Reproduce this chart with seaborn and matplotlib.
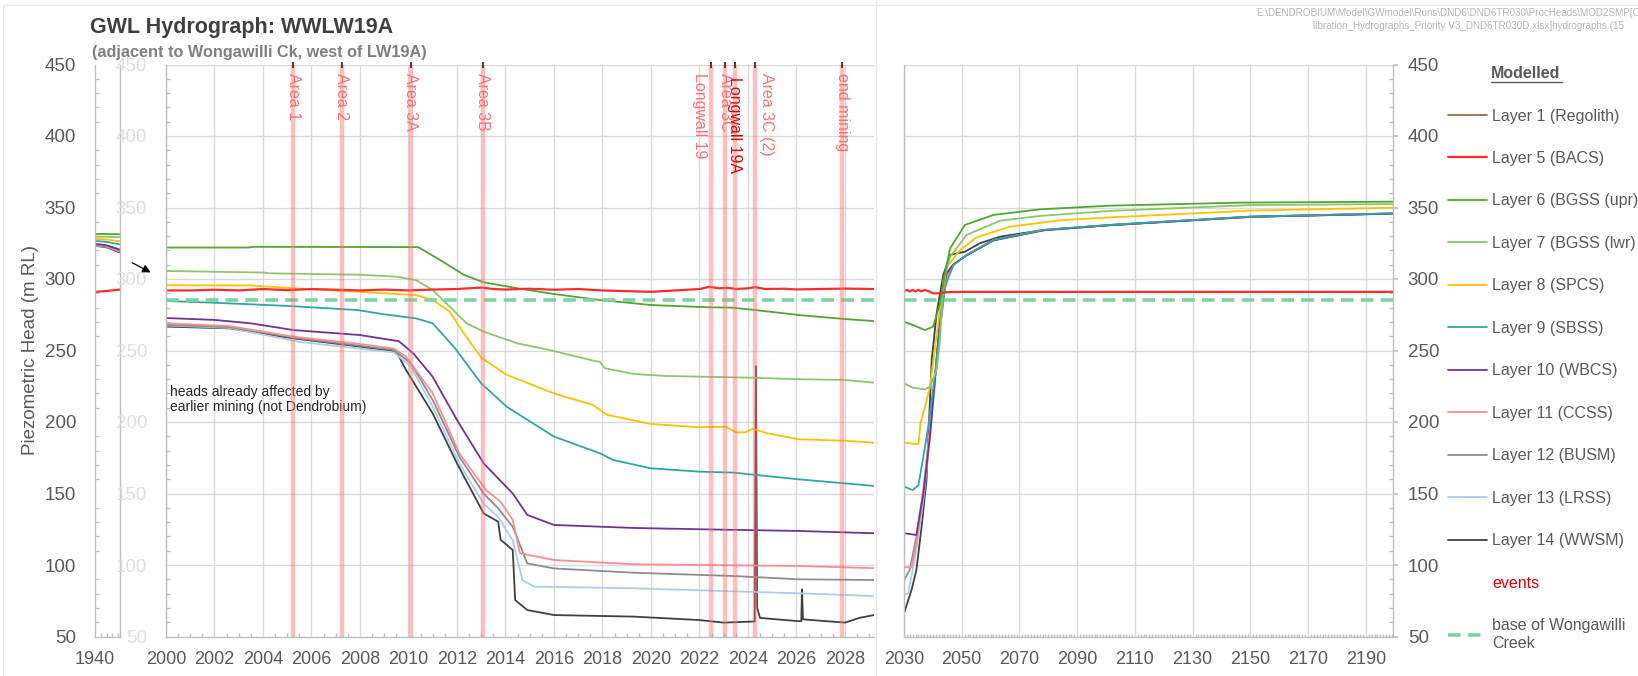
import matplotlib
matplotlib.use('Agg')
import matplotlib.pyplot as plt
from matplotlib.lines import Line2D
from matplotlib.ticker import MultipleLocator
import pandas as pd
import seaborn as sns

# ================= data =================
legend_labels = ['Layer 1 (Regolith)', 'Layer 5 (BACS)', 'Layer 6 (BGSS (upr)',
                 'Layer 7 (BGSS (lwr)', 'Layer 8 (SPCS)', 'Layer 9 (SBSS)',
                 'Layer 10 (WBCS)', 'Layer 11 (CCSS)', 'Layer 12 (BUSM)',
                 'Layer 13 (LRSS)', 'Layer 14 (WWSM)']

# 1940 panel (start / middle / end)
pre_years = [1940, 1944, 1948.5]
pre_l5 = [291.0, 291.6, 292.6]
pre_l6 = [331.5, 331.5, 331.3]
pre_l7 = [329.6, 329.5, 329.2]
pre_l8 = [328.0, 327.6, 326.4]
pre_l9 = [326.6, 326.0, 324.2]
pre_l10 = [324.6, 323.6, 320.6]
pre_l11 = [324.2, 323.2, 320.0]
pre_l12 = [323.8, 322.8, 319.6]
pre_l13 = [323.6, 322.6, 319.3]
pre_l14 = [323.2, 322.2, 318.6]

# 2000-2029 panel, (year, head)
hist_l5 = [(2000, 292), (2001, 292), (2002, 292.5), (2003, 292), (2004, 293), (2005, 292.2),
           (2006, 293), (2007, 292.5), (2008, 292), (2009, 292.6), (2010, 292), (2011, 292.6),
           (2012, 293), (2013, 294), (2013.5, 293), (2014, 292.6), (2015, 293.2), (2016, 292.5),
           (2017, 293), (2018, 292), (2019, 291.5), (2020, 291), (2021, 292), (2022, 293),
           (2022.4, 294.5), (2022.8, 293.5), (2023.2, 293.8), (2023.5, 293), (2024, 293.5),
           (2024.3, 294.3), (2024.7, 293), (2025.5, 293.2), (2026, 292.7), (2027, 293),
           (2028, 293.3), (2029.2, 293)]
hist_l6 = [(2000, 322), (2003.4, 322), (2003.6, 322.5), (2010.4, 322.3), (2011.3, 313.3),
           (2012.3, 302.8), (2013.1, 297.7), (2014.5, 293.5), (2016, 289.5), (2017.9, 285.3),
           (2019.3, 283), (2020, 281.8), (2022.4, 280.2), (2023.3, 280), (2024.3, 278.3),
           (2026.1, 274.8), (2028, 272), (2029.2, 270.6)]
hist_l7 = [(2000, 305.6), (2004.1, 304.5), (2004.2, 304), (2008, 303), (2009.5, 301.6),
           (2010.3, 299.3), (2011, 292.3), (2011.7, 280.6), (2012.4, 269), (2013.1, 263.2),
           (2014.5, 255), (2015.8, 250.4), (2017.6, 243), (2017.9, 242), (2018.1, 237.6),
           (2019.3, 233.6), (2020.6, 232.2), (2024.1, 231), (2026.1, 229.9), (2028, 229.4),
           (2029.2, 227.5)]
hist_l8 = [(2000, 295.6), (2003.5, 295.5), (2005.25, 293.5), (2007.9, 291.1), (2009, 290),
           (2010.3, 288.8), (2011, 285.3), (2011.7, 277.2), (2012.2, 264), (2013.0, 245),
           (2014.05, 233), (2016, 220), (2017.6, 212), (2018.2, 205), (2020, 198.6),
           (2022, 196.3), (2023.1, 196.7), (2023.5, 192.8), (2023.9, 192.8), (2024.2, 195.3),
           (2024.8, 192.1), (2026.1, 187.9), (2028, 186.9), (2029.2, 185.5)]
hist_l9 = [(2000, 284.6), (2002, 283.4), (2005.1, 281.1), (2007.9, 278.3), (2009, 275.3),
           (2010.3, 272.5), (2011, 269), (2011.9, 252), (2013, 227), (2014.05, 210.7),
           (2016, 189.8), (2017.9, 178.1), (2018.45, 173.4), (2020, 167.6), (2022, 165.3),
           (2023.4, 164.6), (2026.1, 159.9), (2028, 157.1), (2029.2, 155.3)]
hist_l10 = [(2000, 272.7), (2002, 271.4), (2003.5, 269), (2005.25, 264.3), (2008, 260.8),
            (2009.6, 256.5), (2010.2, 248), (2011, 231.6), (2012, 201.4), (2013.1, 171.1),
            (2014.3, 150), (2014.9, 135), (2016, 128), (2019.3, 125.9), (2022, 125),
            (2026.1, 123.8), (2029.2, 122.2)]
hist_l11 = [(2000, 269), (2002.6, 267.1), (2005.25, 259.7), (2008, 254.5), (2009.4, 251.3),
            (2009.9, 245.7), (2011, 220), (2012.1, 178.1), (2013.2, 152.4), (2013.8, 144.2),
            (2014.3, 131.5), (2014.6, 108.2), (2016, 103.5), (2019.3, 100.5), (2026.1, 99.3),
            (2029.2, 97.8)]
hist_l12 = [(2000, 268), (2002.6, 266.3), (2005.5, 258.5), (2009.4, 250.4), (2010.1, 241),
            (2011, 215.3), (2012.1, 175.7), (2013.1, 150), (2013.7, 139.6), (2014.3, 126.8),
            (2014.9, 101.1), (2016, 97.6), (2019.3, 94.6), (2023.4, 92.3), (2026.1, 90),
            (2029.2, 89.5)]
hist_l13 = [(2000, 267.5), (2002.6, 265.8), (2005.5, 256), (2009.4, 248.7), (2010.1, 238.6),
            (2011, 210.7), (2012.1, 171.1), (2013.1, 142.9), (2013.7, 133.6), (2014.3, 117.3),
            (2014.7, 89.3), (2015.2, 84.9), (2019.3, 83.7), (2026.1, 80.2), (2029.2, 78.3)]
hist_l14 = [(2000, 266.7), (2002.6, 265.5), (2005.25, 258.5), (2008, 252.7), (2009.5, 249.2),
            (2009.9, 236.4), (2011, 206), (2012, 171.1), (2013.1, 136.1), (2013.7, 130.3),
            (2013.8, 117.7), (2014.3, 110.5), (2014.4, 75.5), (2014.9, 68.5), (2016, 65),
            (2019.3, 63.9), (2022, 61.5), (2023, 59.7), (2024.28, 60.5), (2024.33, 239),
            (2024.38, 70), (2024.5, 63), (2026.1, 60.7), (2026.2, 60.7), (2026.23, 83),
            (2026.27, 62), (2028, 59.7), (2028.6, 63), (2029.2, 65)]

# 2030-2200 recovery panel, (year, head)
rec_l5 = [(2030, 291.6), (2031, 292.4), (2032, 291.3), (2033, 292.4), (2034, 291.3),
          (2035, 292.4), (2036, 291.3), (2037, 292.4), (2038.4, 291.6), (2040, 290),
          (2042, 290), (2045, 290.8), (2050, 291), (2200, 291)]
rec_l6 = [(2030, 270.2), (2033.1, 267.8), (2037.3, 264.3), (2040.1, 266.7), (2042.5, 283),
          (2044.2, 304), (2046, 321.5), (2051.1, 337.8), (2061, 344.8), (2077, 348.7),
          (2101.4, 351.3), (2146.5, 353.4), (2200, 354.1)]
rec_l7 = [(2030, 227), (2033, 224), (2037.3, 222.8), (2039, 224.7), (2041.3, 236.4),
          (2042.5, 257.4), (2043.6, 299.3), (2046, 315.6), (2051.7, 330.8), (2063.3, 340.8),
          (2077, 344.1), (2101.4, 347.6), (2150, 351.7), (2200, 352.4)]
rec_l8 = [(2030, 185.5), (2035, 184.4), (2035.7, 199.1), (2037.3, 210.7), (2039, 224.7),
          (2042.5, 279.5), (2044.8, 308.6), (2049.5, 320.3), (2055.2, 329.2), (2066.7, 336.6),
          (2084, 341), (2101.4, 343.1), (2150, 347.8), (2200, 349.9)]
rec_l9 = [(2030, 154.8), (2033, 152.4), (2035, 155.9), (2036.7, 175.7), (2038.4, 196.7),
          (2040.8, 234), (2042.5, 266.7), (2044.2, 294.6), (2047.1, 309.8), (2051.7, 316.8),
          (2061, 327.3), (2078.3, 334.3), (2101.4, 337.8), (2150, 343.6), (2200, 345.9)]
rec_l10 = [(2030, 122.2), (2034.3, 121), (2036.7, 150), (2039, 189.8), (2040.8, 231.7),
           (2043.1, 290), (2044.8, 304), (2047, 310), (2051.7, 316.5), (2061, 327),
           (2078.3, 334), (2101.4, 337.6), (2150, 343.4), (2200, 345.7)]
rec_l11 = [(2030, 98.4), (2032.6, 98.4), (2034.3, 115.1), (2036.7, 150), (2039.6, 208.3),
           (2042.5, 266.7), (2044.8, 301.6), (2047, 309.5), (2051.7, 316.6), (2061, 327.1),
           (2078.3, 334.1), (2101.4, 337.7), (2150, 343.5), (2200, 345.8)]
rec_l12 = [(2030, 89.5), (2032, 96.5), (2034.3, 119.8), (2036.7, 152.4), (2039.6, 206),
           (2042.5, 271.3), (2044.8, 304), (2047, 310), (2051.7, 316.7), (2061, 327.2),
           (2078.3, 334.2), (2101.4, 337.7), (2150, 343.5), (2200, 345.8)]
rec_l13 = [(2030, 79), (2031.4, 80.2), (2033.7, 103.5), (2036.7, 145.5), (2039.6, 201.4),
           (2042.5, 266.7), (2044.8, 302.7), (2047, 309.8), (2051.7, 316.7), (2061, 327.2),
           (2078.3, 334.2), (2101.4, 337.7), (2150, 343.5), (2200, 345.8)]
rec_l14 = [(2030, 66.2), (2032.6, 82.5), (2034.3, 96.5), (2036.1, 126.8), (2037.8, 159.4),
           (2039.6, 243.4), (2041.3, 276), (2043.6, 302.8), (2046, 316.8), (2051.1, 319.1),
           (2056.3, 325), (2063.3, 329.6), (2078.3, 334.3), (2101.4, 337.8), (2150, 343.6),
           (2200, 345.9)]

creek_base = 285.0
event_years = [2005.25, 2007.24, 2010.09, 2013.06, 2022.46, 2023.06, 2023.46, 2024.29, 2027.89]
event_labels = ['Area 1', 'Area 2', 'Area 3A', 'Area 3B', 'Longwall 19', 'Area 3C',
                'Longwall 19A', 'Area 3C (2)', 'end mining']
recovery_ticks = list(range(2030, 2200, 20))

# ================= style =================
sns.set_theme(style='white')
plt.rcParams['font.family'] = ['Liberation Sans', 'DejaVu Sans']

colors = ['#9c6b3c', '#ff2b2b', '#4ea72e', '#8cc66a', '#ffc000', '#2ea6a6',
          '#7030a0', '#ff8c8c', '#8c8c8c', '#a9cdef', '#404040']
grid_c = '#d9d9d9'
axis_c = '#bfbfbf'
txt_c = '#595959'
creek_c = '#7dd3a0'

W, Hpx = 1638, 676
B = 1 - 636.5 / Hpx
H = (636.5 - 64.5) / Hpx

fig = plt.figure(figsize=(16.38, 6.76), dpi=100)
ax0 = fig.add_axes([95 / W, B, 24.5 / W, H])
ax1 = fig.add_axes([166 / W, B, 708 / W, H])
ax2 = fig.add_axes([904 / W, B, 489 / W, H])


def draw(ax, pts, color, lw=1.3):
    d = pd.DataFrame(pts, columns=['year', 'head'])
    sns.lineplot(data=d, x='year', y='head', color=color, lw=lw, ax=ax,
                 estimator=None, sort=False, legend=False)


pre = [pre_l5, pre_l6, pre_l7, pre_l8, pre_l9, pre_l10, pre_l11, pre_l12, pre_l13, pre_l14]
hist = [hist_l5, hist_l6, hist_l7, hist_l8, hist_l9, hist_l10, hist_l11, hist_l12, hist_l13, hist_l14]
rec = [rec_l5, rec_l6, rec_l7, rec_l8, rec_l9, rec_l10, rec_l11, rec_l12, rec_l13, rec_l14]

# deeper layers first so the upper ones sit on top
for i in reversed(range(len(hist))):
    c = colors[i + 1]
    lw = 1.6 if i == 0 else 1.3
    draw(ax0, list(zip(pre_years, pre[i])), c, lw=lw)
    draw(ax1, hist[i], c, lw=lw)
    draw(ax2, rec[i], c, lw=lw)

for ax in (ax1, ax2):
    ax.axhline(creek_base, color=creek_c, lw=2.6, ls=(0, (3.5, 2)), zorder=3)

# events
for yr, lab in zip(event_years, event_labels):
    ax1.axvline(yr, color='#ff7070', alpha=0.45, lw=3.2, zorder=4)
    ax1.plot([yr], [450], marker='|', color='#404040', ms=5, mew=1.4, clip_on=False, zorder=5)
    dx = {'Longwall 19': -8, 'Area 3C (2)': 8}.get(lab, 0)
    dy = -6 if lab == 'Longwall 19A' else -3
    tc = '#e00000' if lab == 'Longwall 19A' else '#ff7070'
    ax1.annotate(lab, xy=(yr, 447), xytext=(dx, dy), textcoords='offset points',
                 rotation=270, ha='center', va='top', fontsize=11.5, color=tc, zorder=6)

# ================= axes cosmetics =================
for ax in (ax0, ax1, ax2):
    ax.set_ylim(50, 450)
    ax.set_xlabel('')
    ax.set_ylabel('')
    ax.yaxis.set_major_locator(MultipleLocator(50))
    ax.yaxis.set_minor_locator(MultipleLocator(10))
    for s in ax.spines.values():
        s.set_color(axis_c)
        s.set_linewidth(1.0)
    ax.tick_params(which='major', direction='out', length=3.6, color=axis_c,
                   labelsize=13, labelcolor=txt_c)
    ax.tick_params(axis='y', which='major', labelsize=13.5)
    ax.tick_params(axis='x', which='major', pad=7)
    ax.tick_params(which='minor', direction='in', length=3, color=axis_c)
    ax.set_axisbelow(True)

# 1940 panel
ax0.set_xlim(1940, 1948.5)
ax0.set_xticks([1940])
ax0.xaxis.set_minor_locator(MultipleLocator(2))
ax0.spines['top'].set_visible(False)
ax0.tick_params(axis='y', which='major', pad=10)
ax0.tick_params(axis='both', which='minor', left=True, bottom=True)

# 2000-2029 panel
ax1.set_xlim(2000, 2029.2)
ax1.xaxis.set_major_locator(MultipleLocator(2))
ax1.xaxis.set_minor_locator(MultipleLocator(0.5))
ax1.grid(True, which='major', color=grid_c, lw=1.0)
ax1.spines['right'].set_visible(False)
ax1.spines['top'].set_visible(False)
ax1.tick_params(axis='y', which='major', labelcolor='#dedede', pad=10)
ax1.tick_params(axis='both', which='minor', left=True, bottom=True)

# 2030-2200 panel
ax2.set_xlim(2030, 2199.4)
ax2.set_xticks(recovery_ticks)
ax2.xaxis.set_minor_locator(MultipleLocator(1))
ax2.grid(True, which='major', color=grid_c, lw=1.0)
ax2.spines['top'].set_visible(False)
ax2.yaxis.tick_right()
ax2.tick_params(axis='y', which='major', pad=7)
ax2.tick_params(axis='y', which='minor', right=True, left=False)
ax2.tick_params(axis='x', which='minor', bottom=True, length=2.5)

# arrow and note
ax1.annotate('', xy=(-0.018, 303.7), xytext=(-0.051, 312.2),
             xycoords=('axes fraction', 'data'), textcoords=('axes fraction', 'data'),
             arrowprops=dict(arrowstyle='-|>', color='black', lw=0.9, mutation_scale=12),
             annotation_clip=False)
ax1.text(2000.15, 215.8, 'heads already affected by\nearlier mining (not Dendrobium)',
         fontsize=10, color='#262626', va='center', linespacing=1.05)

# ================= titles and side texts =================
fig.text(90 / W, 1 - 27 / Hpx, 'GWL Hydrograph: WWLW19A', fontsize=15.5, fontweight='bold',
         color='#404040', va='center')
fig.text(92 / W, 1 - 53 / Hpx, '(adjacent to Wongawilli Ck, west of LW19A)', fontsize=11.7,
         fontweight='bold', color='#7f7f7f', va='center')
fig.text(31 / W, B + H / 2, 'Piezometric Head (m RL)', rotation=90, fontsize=13.5,
         color=txt_c, ha='center', va='center')
fig.text(1256 / W, 1 - 13 / Hpx,
         'E:\\DENDROBIUM\\Model\\GWmodel\\Runs\\DND6\\DND6TR030\\ProcHeads\\MOD2SMP[C',
         fontsize=7.1, color='#b3b3b3', va='center')
fig.text(1313 / W, 1 - 26 / Hpx,
         'libration_Hydrographs_Priority V3_DND6TR030D.xlsx]hydrographs (15',
         fontsize=7.1, color='#b3b3b3', va='center')

# chart borders
fig.add_artist(Line2D([3 / W, 1], [1 - 5 / Hpx] * 2, color='#e6e6e6', lw=1))
fig.add_artist(Line2D([3 / W] * 2, [0, 1 - 5 / Hpx], color='#e6e6e6', lw=1))
fig.add_artist(Line2D([876 / W] * 2, [0, 1], color='#e6e6e6', lw=1))

# ================= legend =================
fig.text(1491 / W, 1 - 74 / Hpx, 'Modelled', fontsize=11.5, fontweight='bold',
         color=txt_c, va='center')
fig.add_artist(Line2D([1491 / W, 1562 / W], [1 - 82 / Hpx] * 2, color=txt_c, lw=1))

handles = [Line2D([], [], color=c, lw=1.6 if k == 1 else 1.3) for k, c in enumerate(colors)]
labels = list(legend_labels)
handles.append(Line2D([], [], color='none'))
labels.append('events')
handles.append(Line2D([], [], color=creek_c, lw=2.6, ls=(0, (3.5, 2))))
labels.append('base of Wongawilli\nCreek')
leg = fig.legend(handles, labels, loc='upper left', bbox_to_anchor=(1448 / W, 1 - 108.5 / Hpx),
                 frameon=False, fontsize=11.5, handlelength=2.45, handletextpad=0.3,
                 labelspacing=1.72, borderpad=0, borderaxespad=0, labelcolor=txt_c)
leg.get_texts()[-2].set_color('#e00000')

fig.savefig('out.png', dpi=100)
